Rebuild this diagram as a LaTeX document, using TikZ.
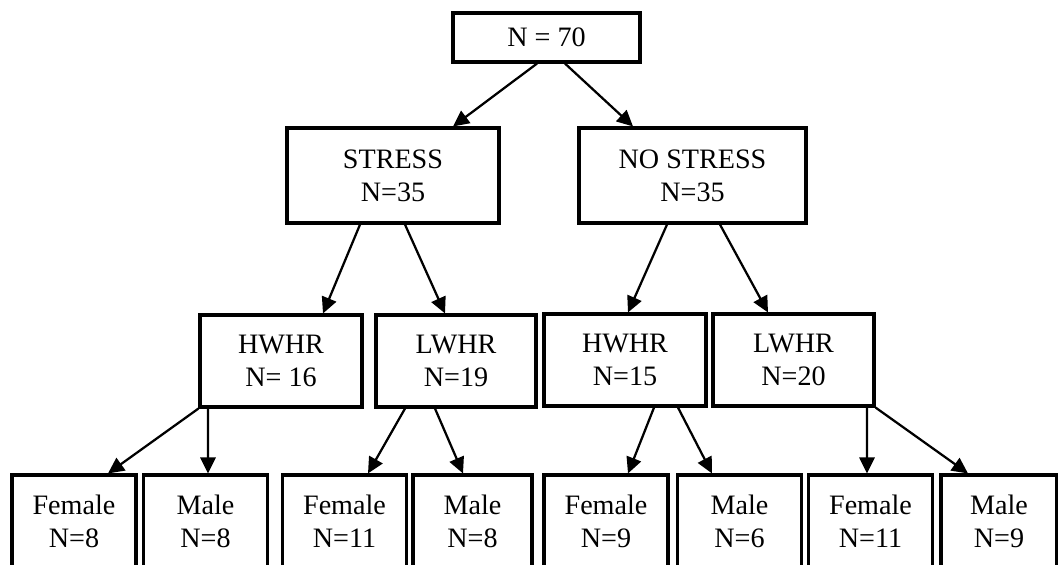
\documentclass[tikz,border=0pt]{standalone}
\usepackage{fontspec}
\setmainfont{Liberation Serif}
\usepackage{tikz}
\usetikzlibrary{positioning,arrows.meta,calc}
\tikzset{
  flow/.style={-{Triangle[length=0.4cm,width=0.38cm]},line width=1.6pt,draw=black},
  box/.style={draw=black,fill=white,line width=2.2pt,inner sep=0pt,
    minimum height=2.3cm,align=center,
    font=\fontsize{20}{23.5}\selectfont},
  rootbox/.style={box,minimum height=1.225cm,minimum width=4.675cm},
  splitbox/.style={box,minimum height=2.375cm},
  leafbox/.style={box,minimum width=3.1cm}
}

\begin{document}
\begin{tikzpicture}[x=0.025cm,y=-0.025cm]
  \useasboundingbox (0,0) rectangle (1058,565);
  % root
  \node[rootbox] (root) at (546.5,37.5) {N = 70};
  % stress groups
  \node[splitbox,minimum width=5.3cm] (stress) at (393,175.5) {STRESS\\N=35};
  \node[splitbox,minimum width=5.675cm] (nostress) at (692.5,175.5) {NO STRESS\\N=35};
  % waist-to-hip ratio
  \node[box,minimum width=4.05cm] (hwhrA) at (281,361) {HWHR\\N= 16};
  \node[box,minimum width=4cm] (lwhrA) at (456,361) {LWHR\\N=19};
  \node[box,minimum width=4.05cm] (hwhrB) at (625,360) {HWHR\\N=15};
  \node[box,minimum width=4.025cm] (lwhrB) at (793.5,360) {LWHR\\N=20};
  % sex
  \node[leafbox] (femA) at (74,521) {Female\\N=8};
  \node[leafbox] (maleA) at (205.5,521) {Male\\N=8};
  \node[leafbox] (femB) at (344.5,521) {Female\\N=11};
  \node[leafbox,minimum width=2.975cm] (maleB) at (472.5,521) {Male\\N=8};
  \node[leafbox] (femC) at (606,521) {Female\\N=9};
  \node[leafbox] (maleC) at (739.5,521) {Male\\N=6};
  \node[leafbox] (femD) at (870.5,521) {Female\\N=11};
  \node[leafbox,minimum width=2.9cm] (maleD) at (999,521) {Male\\N=9};

  \draw[flow] ($(root.south)+(-9.5,0)$) -- ($(stress.north)+(60,0)$);
  \draw[flow] ($(root.south)+(18.5,0)$) -- ($(nostress.north)+(-59.5,0)$);
  \draw[flow] ($(stress.south)+(-33,0)$) -- ($(hwhrA.north)+(42,0)$);
  \draw[flow] ($(stress.south)+(12,0)$) -- ($(lwhrA.north)+(-11,0)$);
  \draw[flow] ($(nostress.south)+(-25.5,0)$) -- ($(hwhrB.north)+(3,0)$);
  \draw[flow] ($(nostress.south)+(27.5,0)$) -- ($(lwhrB.north)+(-25.5,0)$);
  \draw[flow] (hwhrA.south west) -- ($(femA.north)+(34,0)$);
  \draw[flow] ($(hwhrA.south)+(-73,0)$) -- ($(maleA.north)+(2.5,0)$);
  \draw[flow] ($(lwhrA.south)+(-51,0)$) -- ($(femB.north)+(23.5,0)$);
  \draw[flow] ($(lwhrA.south)+(-21,0)$) -- ($(maleB.north)+(-9.5,0)$);
  \draw[flow] ($(hwhrB.south)+(29,0)$) -- ($(femC.north)+(22,0)$);
  \draw[flow] ($(hwhrB.south)+(53,0)$) -- ($(maleC.north)+(-27.5,0)$);
  \draw[flow] ($(lwhrB.south)+(73.5,0)$) -- ($(femD.north)+(-3.5,0)$);
  \draw[flow] (lwhrB.south east) -- ($(maleD.north)+(-31,0)$);
\end{tikzpicture}
\end{document}
